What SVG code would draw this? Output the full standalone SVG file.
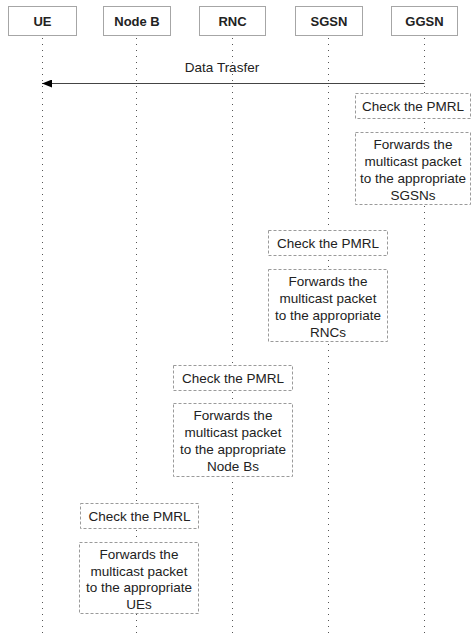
<svg xmlns="http://www.w3.org/2000/svg" width="471" height="635" viewBox="0 0 471 635">
  <style>
    .head rect { fill: #ffffff; stroke: #a6a6a6; stroke-width: 1; }
    .head text { font-family: "Liberation Sans", Arial, sans-serif; font-size: 13px; font-weight: bold; fill: #222222; text-anchor: middle; }
    .life { stroke: #555555; stroke-width: 1; stroke-dasharray: 1 5; fill: none; }
    .step rect { fill: #ffffff; stroke: #9a9a9a; stroke-width: 1; stroke-dasharray: 3 2; }
    .step text, .label { font-family: "Liberation Sans", Arial, sans-serif; font-size: 13.5px; fill: #222222; text-anchor: middle; }
    .msg { stroke: #444444; stroke-width: 1; fill: none; }
  </style>
  <defs>
    <marker id="arrow" viewBox="0 0 10 8" refX="10" refY="4" markerWidth="10" markerHeight="8" markerUnits="userSpaceOnUse" orient="auto">
      <path d="M0,0 L10,4 L0,8 z" fill="#000000"/>
    </marker>
  </defs>
  <rect width="471" height="635" fill="#ffffff"/>

  <!-- lifelines -->
  <g id="lifelines">
    <line class="life" x1="42.5" y1="38" x2="42.5" y2="635"/>
    <line class="life" x1="136.5" y1="38" x2="136.5" y2="635"/>
    <line class="life" x1="232.5" y1="38" x2="232.5" y2="635"/>
    <line class="life" x1="328.5" y1="38" x2="328.5" y2="635"/>
    <line class="life" x1="424.5" y1="38" x2="424.5" y2="635"/>
  </g>

  <!-- participants -->
  <g id="ue" class="head"><rect x="8.5" y="6.5" width="68" height="29"/><text x="42.5" y="26">UE</text></g>
  <g id="nodeb" class="head"><rect x="103.5" y="6.5" width="67" height="29"/><text x="137" y="26">Node B</text></g>
  <g id="rnc" class="head"><rect x="199.5" y="6.5" width="66" height="29"/><text x="232.5" y="26">RNC</text></g>
  <g id="sgsn" class="head"><rect x="295.5" y="6.5" width="67" height="29"/><text x="329" y="26">SGSN</text></g>
  <g id="ggsn" class="head"><rect x="391.5" y="6.5" width="66" height="29"/><text x="424.5" y="26">GGSN</text></g>

  <!-- message -->
  <g id="connectors">
    <line class="msg" x1="424.5" y1="83.5" x2="42" y2="83.5" marker-end="url(#arrow)"/>
    <text class="label" x="222" y="72">Data Trasfer</text>
  </g>

  <!-- GGSN steps -->
  <g id="ggsn-check" class="step">
    <rect x="355.5" y="93.5" width="115" height="25"/>
    <text x="413" y="111">Check the PMRL</text>
  </g>
  <g id="ggsn-forward" class="step">
    <rect x="355.5" y="132.5" width="115" height="72"/>
    <text x="413" y="149">Forwards the</text>
    <text x="413" y="166">multicast packet</text>
    <text x="413" y="183">to the appropriate</text>
    <text x="413" y="200">SGSNs</text>
  </g>

  <!-- SGSN steps -->
  <g id="sgsn-check" class="step">
    <rect x="268.5" y="230.5" width="119" height="25"/>
    <text x="328" y="248">Check the PMRL</text>
  </g>
  <g id="sgsn-forward" class="step">
    <rect x="268.5" y="269.5" width="119" height="72"/>
    <text x="328" y="286">Forwards the</text>
    <text x="328" y="303">multicast packet</text>
    <text x="328" y="320">to the appropriate</text>
    <text x="328" y="337">RNCs</text>
  </g>

  <!-- RNC steps -->
  <g id="rnc-check" class="step">
    <rect x="173.5" y="365.5" width="119" height="25"/>
    <text x="233" y="383">Check the PMRL</text>
  </g>
  <g id="rnc-forward" class="step">
    <rect x="173.5" y="403.5" width="119" height="73"/>
    <text x="233" y="420">Forwards the</text>
    <text x="233" y="437">multicast packet</text>
    <text x="233" y="454">to the appropriate</text>
    <text x="233" y="471">Node Bs</text>
  </g>

  <!-- Node B steps -->
  <g id="nodeb-check" class="step">
    <rect x="80.5" y="503.5" width="118" height="25"/>
    <text x="139.5" y="521">Check the PMRL</text>
  </g>
  <g id="nodeb-forward" class="step">
    <rect x="79.5" y="542.5" width="119" height="71"/>
    <text x="139" y="559">Forwards the</text>
    <text x="139" y="575.5">multicast packet</text>
    <text x="139" y="592">to the appropriate</text>
    <text x="139" y="608.5">UEs</text>
  </g>
</svg>
